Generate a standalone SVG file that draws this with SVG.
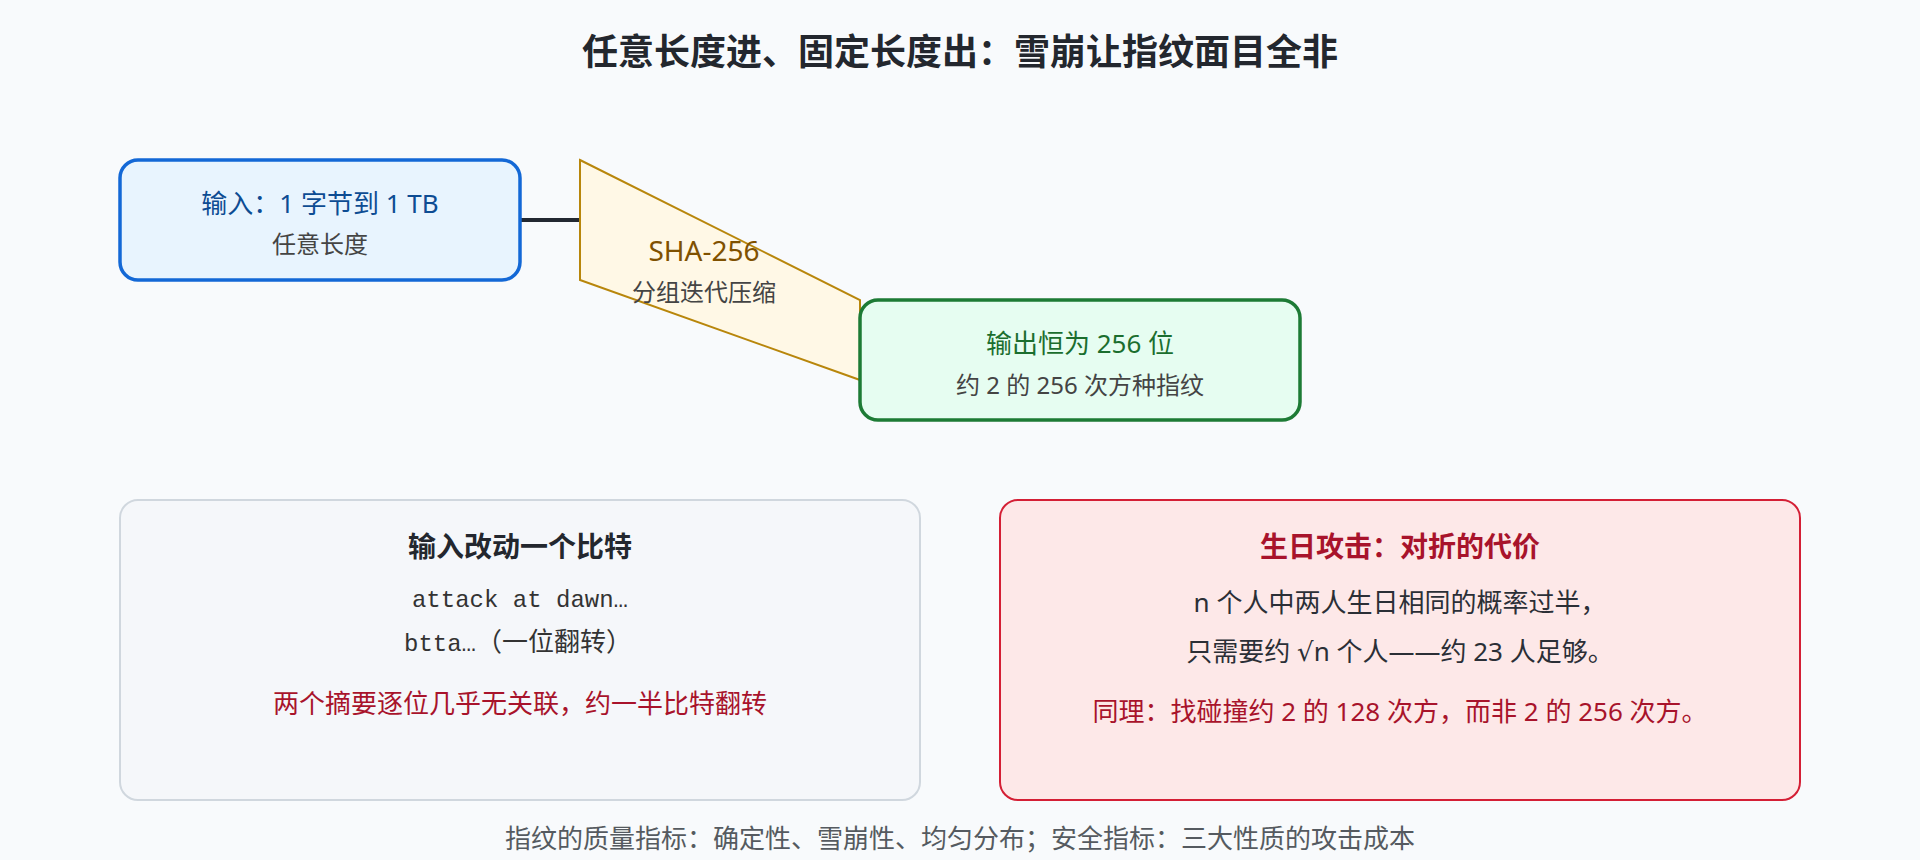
<svg xmlns="http://www.w3.org/2000/svg" width="1920" height="860" viewBox="0 0 1920 860">
  <style>
    text { font-family: "Noto Sans", "Noto Sans CJK SC", sans-serif; text-anchor: middle; }
    .title { font-size: 36px; font-weight: 700; fill: #23272e; }
    .main { font-size: 26px; }
    .sub { font-size: 24px; fill: #444444; }
    .ptitle { font-size: 28px; font-weight: 700; }
    .body { font-size: 26px; fill: #2b2f36; }
    .red { font-size: 26px; fill: #a8132b; }
    .mono { font-family: "Liberation Mono", "Noto Sans CJK SC", monospace; font-size: 24px; fill: #333333; }
    .foot { font-size: 26px; fill: #555a60; }
  </style>
  <rect x="0" y="0" width="1920" height="860" fill="#f8fafc"/>
  <text class="title" x="960" y="65">任意长度进、固定长度出：雪崩让指纹面目全非</text>

  <g id="connectors">
    <line x1="520" y1="220" x2="580" y2="220" stroke="#222831" stroke-width="4"/>
  </g>

  <g id="input">
    <rect x="120" y="160" width="400" height="120" rx="18" fill="#e8f4fe" stroke="#1368d6" stroke-width="3.5"/>
    <text class="main" x="320" y="213" fill="#0d4c93">输入：1 字节到 1 TB</text>
    <text class="sub" x="320" y="253">任意长度</text>
  </g>

  <g id="sha256">
    <polygon points="580,160 860,300 860,380 580,280" fill="#fff8e6" stroke="#b8860b" stroke-width="2"/>
    <text x="704" y="261" font-size="28" fill="#7f5100">SHA-256</text>
    <text class="sub" x="704" y="301">分组迭代压缩</text>
  </g>

  <g id="output">
    <rect x="860" y="300" width="440" height="120" rx="18" fill="#e6fdf1" stroke="#1d7b35" stroke-width="3.5"/>
    <text class="main" x="1080" y="353" fill="#1b6e2e">输出恒为 256 位</text>
    <text class="sub" x="1080" y="394">约 2 的 256 次方种指纹</text>
  </g>

  <g id="bitflip">
    <rect x="120" y="500" width="800" height="300" rx="18" fill="#f5f7fa" stroke="#d0d7de" stroke-width="2"/>
    <text class="ptitle" x="520" y="557" fill="#23272e">输入改动一个比特</text>
    <text class="mono" x="520" y="607">attack at dawn…</text>
    <text class="mono" x="518" y="651">btta…<tspan font-size="26">（一位翻转）</tspan></text>
    <text class="red" x="520" y="713">两个摘要逐位几乎无关联，约一半比特翻转</text>
  </g>

  <g id="birthday">
    <rect x="1000" y="500" width="800" height="300" rx="18" fill="#fde8e8" stroke="#d41f35" stroke-width="2"/>
    <text class="ptitle" x="1400" y="557" fill="#a8132b">生日攻击：对折的代价</text>
    <text class="body" x="1400" y="612">n 个人中两人生日相同的概率过半，</text>
    <text class="body" x="1400" y="661">只需要约 <tspan font-family="DejaVu Sans">√</tspan>n 个人——约 23 人足够。</text>
    <text class="red" x="1400" y="721">同理：找碰撞约 2 的 128 次方，而非 2 的 256 次方。</text>
  </g>

  <text class="foot" x="960" y="848">指纹的质量指标：确定性、雪崩性、均匀分布；安全指标：三大性质的攻击成本</text>
</svg>
